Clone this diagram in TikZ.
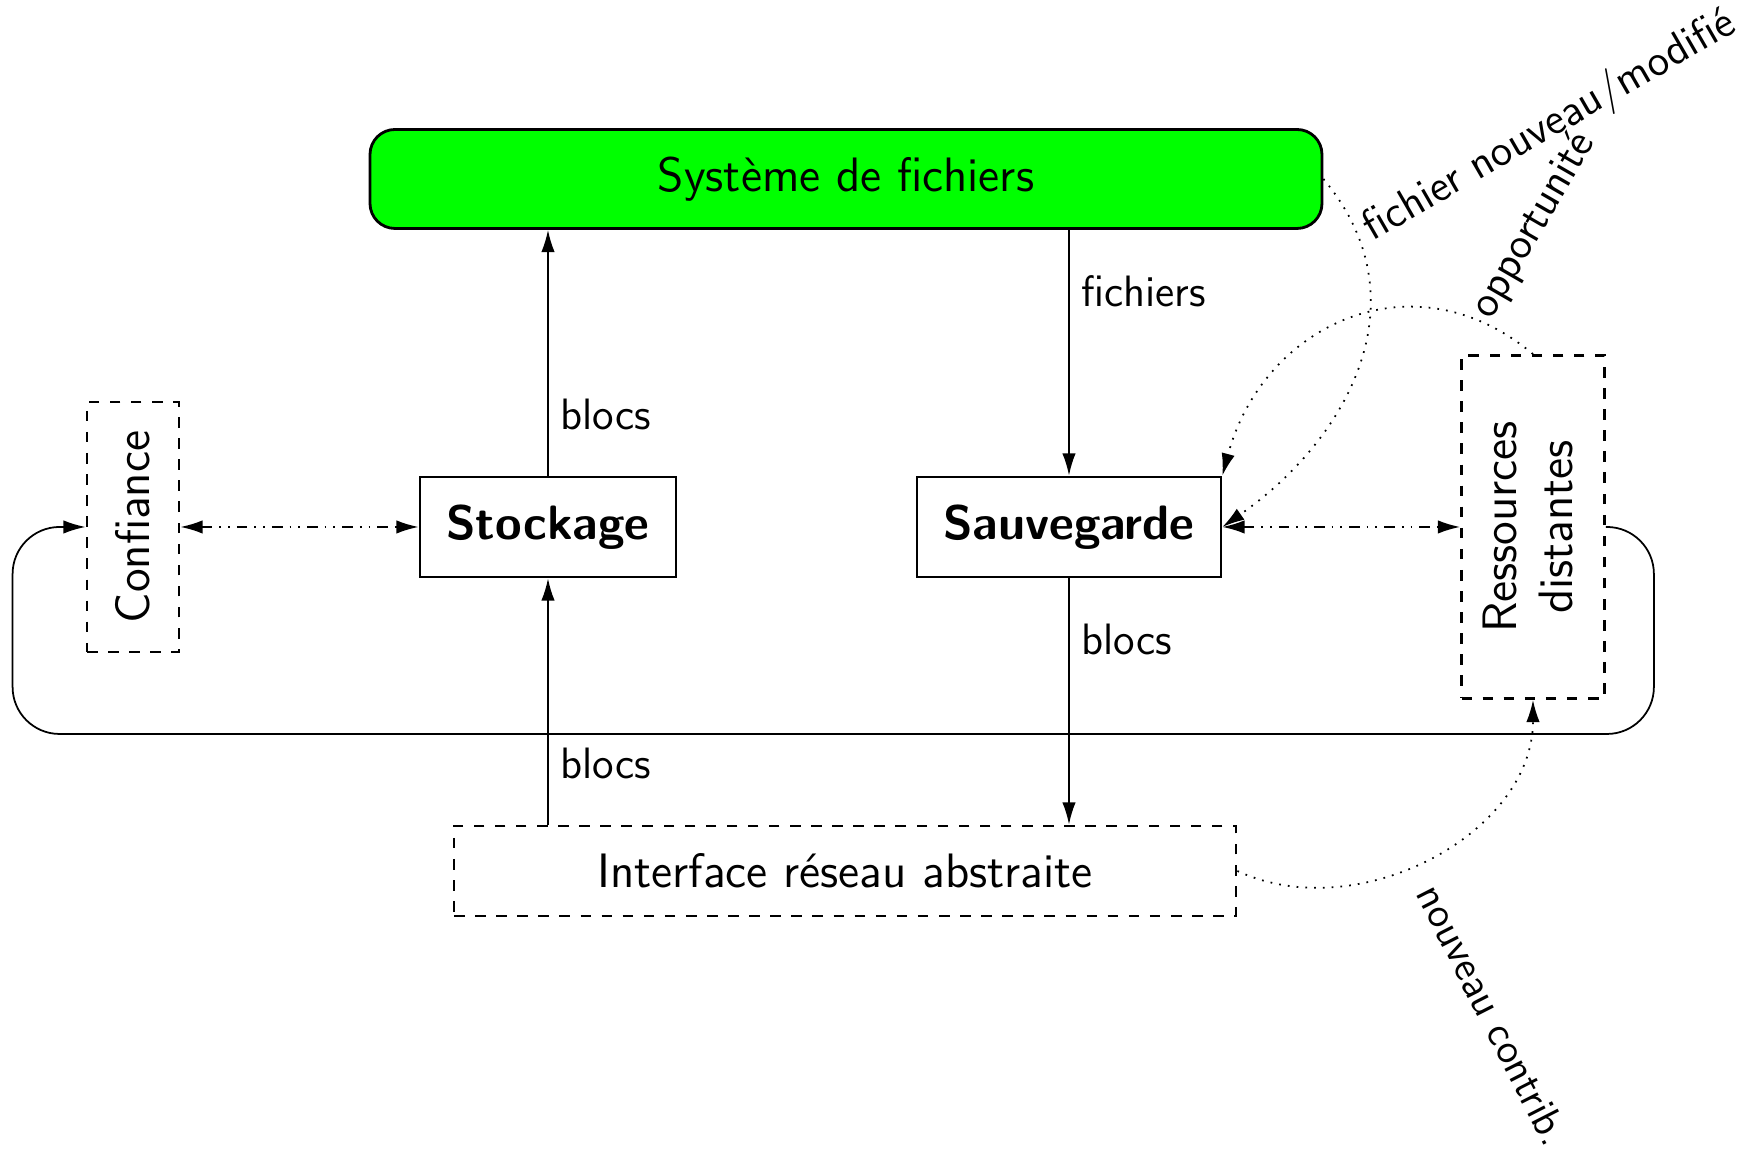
\documentclass[tikz,border=0pt]{standalone}
\usepackage{amsmath,amssymb}
\usepackage{tikz}
\usetikzlibrary{calc,positioning,arrows.meta}

\begin{document}
\begin{tikzpicture}[>={Latex[length=6.3pt,width=3.8pt]},line width=0.5pt]

\tikzset{boxtext/.style={font=\sffamily\fontsize{13.75}{16}\selectfont},
plainbox/.style={boxtext,draw,line width=0.8pt,minimum height=1cm},
dashbox/.style={boxtext,draw,dashed,line width=0.8pt},
edgelabel/.style={font=\sffamily\fontsize{12.5}{15}\selectfont},
hintlabel/.style={edgelabel,inner sep=0,anchor=base west},
sideflow/.style={<->,dash dot dot},
hintflow/.style={->,dotted}}

\useasboundingbox (0,0) rectangle (17.51,11.53);

% Main blocks
\node (fs) [boxtext,draw,line width=0.8pt,fill=green,rounded corners=0.25cm,minimum width=9.52cm,minimum height=0.99cm] at (8.46,9.74) {Système de fichiers};
\node (stock) [plainbox,minimum width=2.56cm] at (5.48,6.26) {\bfseries Stockage};
\node (sauv) [plainbox,minimum width=3.04cm] at (10.69,6.26) {\bfseries Sauvegarde};

% Side blocks
\node (conf) [dashbox,minimum width=0.92cm,minimum height=2.5cm] at (1.33,6.26) {\rotatebox{90}{Confiance}};
\node (res) [dashbox,minimum width=1.43cm,minimum height=3.43cm] at (15.33,6.26) {\rotatebox{90}{\begin{tabular}{@{}c@{}}Ressources\\distantes\end{tabular}}};
\node (iface) [dashbox,minimum width=7.82cm,minimum height=0.9cm] at (8.45,2.82) {Interface réseau abstraite};

%% Data flows
\draw[->] (stock.north) -- (stock.north |- fs.south) node[edgelabel,near start,right] {blocs};
\draw[->] (fs.south -| sauv.north) -- (sauv.north) node[edgelabel,near start,right] {fichiers};
\draw[->] (sauv.south) -- (sauv.south |- iface.north) node[edgelabel,near start,right] {blocs};
\draw[->] (iface.north -| stock.south) -- (stock.south) node[edgelabel,near start,right] {blocs};

\draw[sideflow] (conf.east) -- (stock.west);
\draw[sideflow] (sauv.east) -- (res.west);

% Loop back to trust
\draw[->,rounded corners=0.47cm] (res.east) -- ++(0.48,0) |- ($(conf.west)+(-0.73,-2.07)$) |- (conf.west);

% Events
\draw[hintflow] (fs.east) to[out=-50,in=35,looseness=1.1] (sauv.east);
\draw[hintflow] (res.north) to[out=140,in=75,looseness=1.2] (sauv.north east);
\draw[hintflow] (iface.east) to[out=-25,in=-90] (res.south);

\node (lblmod) [hintlabel,rotate=30] at (13.72,9.11) {fichier nouveau/modifié};
\node (lblopp) [hintlabel,rotate=60] at (14.91,8.32) {opportunité};
\node (lblnew) [hintlabel,rotate=-63,font=\sffamily\fontsize{12}{14}\selectfont] at (14.15,2.60) {nouveau contrib.};
\end{tikzpicture}
\end{document}
